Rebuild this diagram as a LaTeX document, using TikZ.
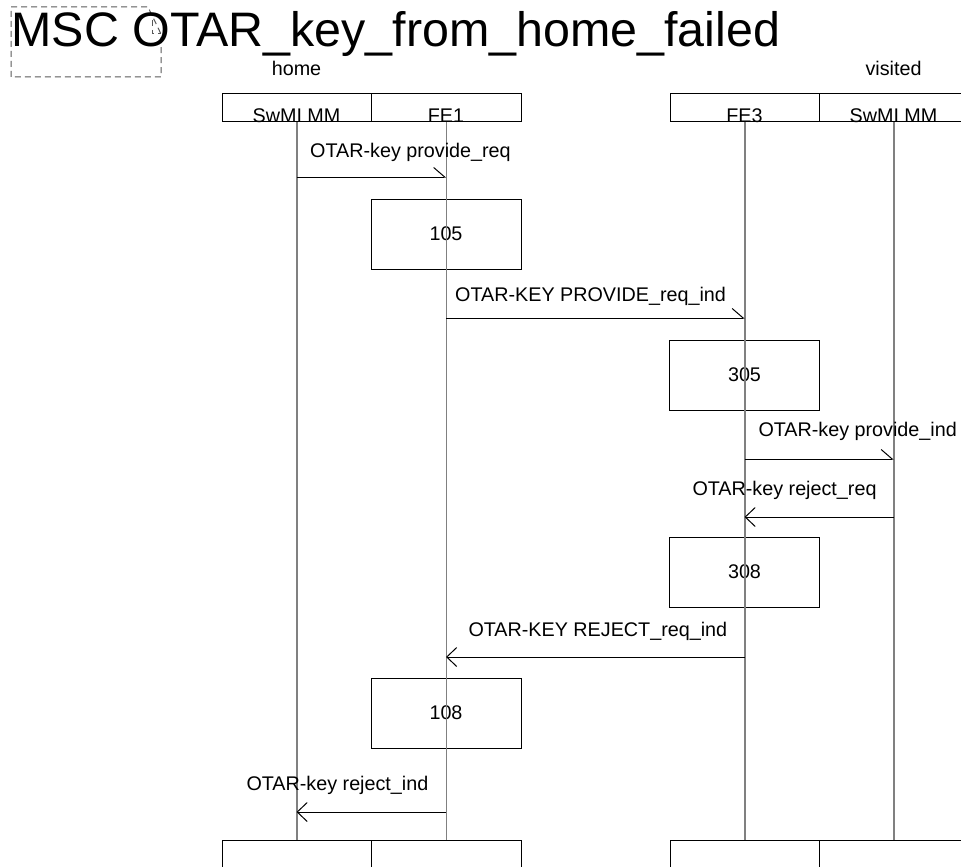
\documentclass[tikz,border=0pt]{standalone}
\usepackage{fontspec}
\setmainfont{Liberation Sans}
\usetikzlibrary{arrows.meta}
\begin{document}
\begin{tikzpicture}[x=1pt,y=-1pt,
  lbl/.style={font=\fontsize{19.75}{22}\selectfont, inner sep=0pt, anchor=base west},
  ctr/.style={font=\fontsize{19.75}{22}\selectfont, inner sep=0pt, anchor=base},
  hdr/.style={draw, line width=1pt, minimum height=28pt, inner sep=0pt, anchor=north west},
  act/.style={draw, line width=1pt, minimum width=150pt, minimum height=70pt, inner sep=0pt, font=\fontsize{19.75}{22}\selectfont},
  life/.style={draw=black!50, line width=1.5pt},
  msgr/.style={line width=1pt, -{Straight Barb[harpoon,length=11pt,width=19pt,line width=1pt]}},
  msgl/.style={line width=1pt, -{Straight Barb[length=10pt,width=19pt,line width=1pt]}}
]
\useasboundingbox (0,0) rectangle (961,867);
\clip (0,0) rectangle (961,867);

% title frame
\draw[black!65, line width=1pt, dash pattern=on 6pt off 4pt]
  (11,7) -- (148,7) -- (161,34) -- (161,77) -- (11,77) -- cycle;
\draw[black!65, line width=1pt, dash pattern=on 6pt off 4pt]
  (152,20) -- (152,34) -- (161,34);
\node[font=\fontsize{48.4}{50}\selectfont, inner sep=0pt, anchor=base west] (title) at (11.4,47) {MSC OTAR\_key\_from\_home\_failed};

% instance group labels
\node[ctr] (home) at (296.5,76) {home};
\node[ctr] (visited) at (893.5,76) {visited};

% instance heads
\node[hdr, minimum width=149pt] (h1) at (222,93) {};
\node[hdr, minimum width=150pt] (h2) at (371,93) {};
\node[hdr, minimum width=149pt] (h3) at (670,93) {};
\node[hdr, minimum width=149pt] (h4) at (819,93) {};
\node[ctr] (n1) at (296.5,122) {SwMI MM};
\node[ctr] (n2) at (446,122) {FE1};
\node[ctr] (n3) at (744.5,122) {FE3};
\node[ctr] (n4) at (893.5,122) {SwMI MM};

% instance ends
\node[hdr, minimum width=149pt, minimum height=40pt] (e1) at (222,840) {};
\node[hdr, minimum width=150pt, minimum height=40pt] (e2) at (371,840) {};
\node[hdr, minimum width=149pt, minimum height=40pt] (e3) at (670,840) {};
\node[hdr, minimum width=149pt, minimum height=40pt] (e4) at (819,840) {};

% action boxes
\node[act] (a105) at (446,234) {105};
\node[act] (a305) at (744.5,375) {305};
\node[act] (a308) at (744.5,572) {308};
\node[act] (a108) at (446,713) {108};

% lifelines
\draw[life] (h1.south) -- (e1.north);
\draw[life] (h2.south) -- (e2.north);
\draw[life] (h3.south) -- (e3.north);
\draw[life] (h4.south) -- (e4.north);

% message end points
\coordinate (m1s) at (296.5,177); \coordinate (m1e) at (446,177);
\coordinate (m3s) at (446,318);   \coordinate (m3e) at (744.5,318);
\coordinate (m5s) at (744.5,459); \coordinate (m5e) at (893.5,459);
\coordinate (m6s) at (893.5,517); \coordinate (m6e) at (744.5,517);
\coordinate (m8s) at (744.5,657); \coordinate (m8e) at (446,657);
\coordinate (m10s) at (446,812);  \coordinate (m10e) at (296.5,812);

\draw[msgr] (m1s) -- (m1e);
\draw[msgr] (m3s) -- (m3e);
\draw[msgr] (m5s) -- (m5e);
\draw[msgl] (m6s) -- (m6e);
\draw[msgl] (m8s) -- (m8e);
\draw[msgl] (m10s) -- (m10e);

\node[lbl] (t1) at (310,157) {OTAR-key provide\_req};
\node[lbl] (t3) at (455,301.5) {OTAR-KEY PROVIDE\_req\_ind};
\node[lbl] (t5) at (758.3,436) {OTAR-key provide\_ind};
\node[lbl] (t6) at (692.3,495.5) {OTAR-key reject\_req};
\node[lbl] (t8) at (468.3,636) {OTAR-KEY REJECT\_req\_ind};
\node[lbl] (t10) at (246.3,790) {OTAR-key reject\_ind};
\end{tikzpicture}
\end{document}
